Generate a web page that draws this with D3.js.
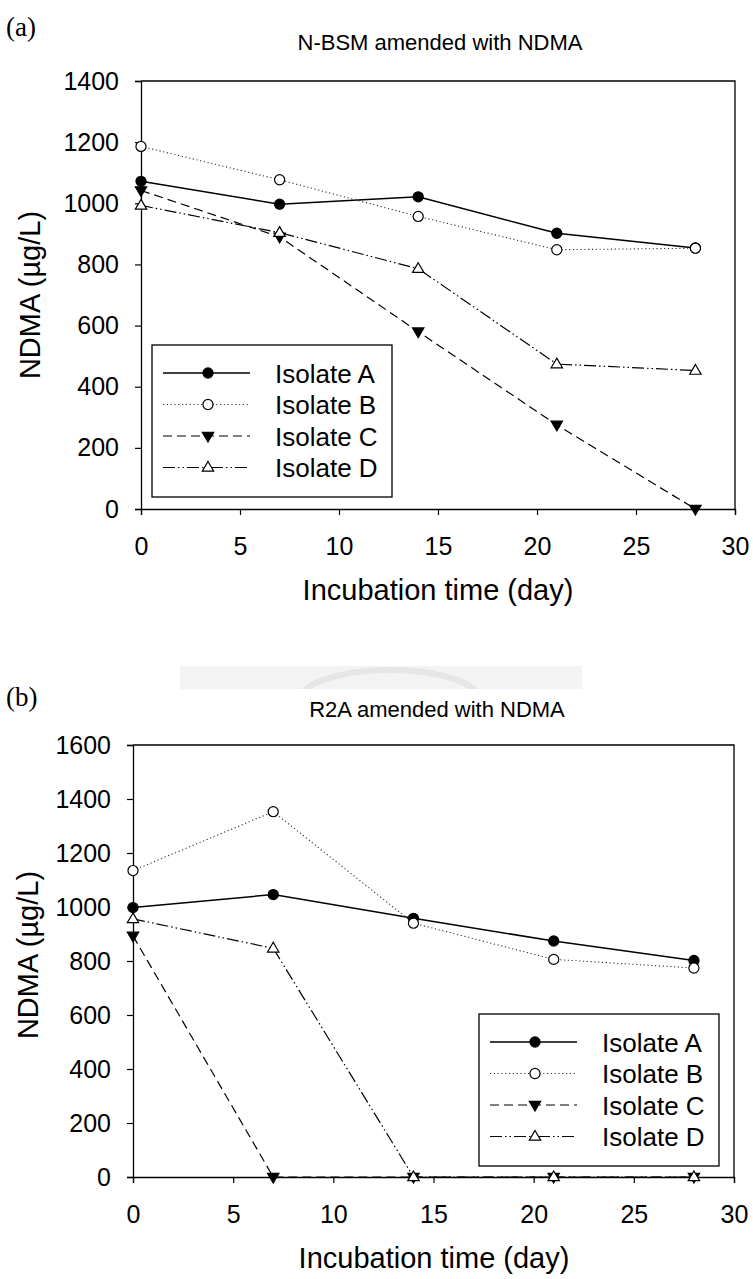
<!DOCTYPE html>
<html>
<head>
<meta charset="utf-8">
<script src="https://cdn.jsdelivr.net/npm/d3@7/dist/d3.min.js"></script>
<style>
  html, body { margin: 0; padding: 0; background: #fff; }
  svg { display: block; }
  text { font-family: "Liberation Sans", Arial, sans-serif; fill: #000; }
</style>
</head>
<body>
<svg id="chart" width="753" height="1279"></svg>
<script>
// Sampling days
const days = [0, 7, 14, 21, 28];
const isolates = ["Isolate A", "Isolate B", "Isolate C", "Isolate D"];

// N-BSM medium amended with NDMA (µg/L)
const bsmA = [1072, 997, 1021, 902, 854];
const bsmB = [1186, 1077, 957, 848, 853];
const bsmC = [1042, 890, 580, 275, 0];
const bsmD = [993, 904, 786, 474, 453];

// R2A medium amended with NDMA (µg/L)
const r2aA = [998, 1046, 958, 874, 802];
const r2aB = [1135, 1353, 940, 806, 774];
const r2aC = [893, 0, 0, 0, 0];
const r2aD = [956, 847, 0, 0, 0];

const xTicks = [0, 5, 10, 15, 20, 25, 30];
const yTicksA = [0, 200, 400, 600, 800, 1000, 1200, 1400];
const yTicksB = [0, 200, 400, 600, 800, 1000, 1200, 1400, 1600];

// Line / marker styling per isolate
const styles = [
  { dash: null, width: 1.5, color: "#000", marker: "circle", fill: "#000" },
  { dash: "1.2,2.6", width: 1.1, color: "#333", marker: "circle", fill: "#fff" },
  { dash: "9,5", width: 1.2, color: "#000", marker: "triDown", fill: "#000" },
  { dash: "12,3,1.5,3,1.5,3", width: 1.2, color: "#000", marker: "triUp", fill: "#fff" }
];

const svg = d3.select("#chart");

function markerPath(type) {
  if (type === "circle") return d3.symbol().type(d3.symbolCircle).size(80)();
  const s = 6;
  if (type === "triUp") return `M0,${-s} L${s * 0.95},${s * 0.62} L${-s * 0.95},${s * 0.62} Z`;
  return `M0,${s} L${s * 0.95},${-s * 0.62} L${-s * 0.95},${-s * 0.62} Z`;
}

function drawPanel(cfg) {
  const g = svg.append("g");
  const x = d3.scaleLinear().domain([0, 30]).range([cfg.left, cfg.right]);
  const y = d3.scaleLinear().domain([0, cfg.yMax]).range([cfg.bottom, cfg.top]);

  // panel letter
  g.append("text").attr("x", cfg.letterX).attr("y", cfg.letterY)
    .style("font-family", "'Liberation Serif', 'Times New Roman', serif")
    .style("font-size", "27px").text(cfg.letter);

  // title
  g.append("text").attr("x", cfg.titleX).attr("y", cfg.titleY)
    .attr("text-anchor", "middle").style("font-size", "22px").text(cfg.title);

  // frame (top and right)
  g.append("path")
    .attr("d", `M${cfg.left},${cfg.top} H${cfg.right} V${cfg.bottom}`)
    .attr("fill", "none").attr("stroke", "#000").attr("stroke-width", 1.3);

  // axes
  const yAxis = g.append("g").attr("transform", `translate(${cfg.left},0)`)
    .call(d3.axisLeft(y).tickValues(cfg.yTicks).tickSize(6).tickPadding(16).tickFormat(d3.format("d")));
  const xAxis = g.append("g").attr("transform", `translate(0,${cfg.bottom})`)
    .call(d3.axisBottom(x).tickValues(xTicks).tickSize(6).tickPadding(22).tickFormat(d3.format("d")));
  [yAxis, xAxis].forEach(a => {
    a.select(".domain").attr("stroke", "#000").attr("stroke-width", 1.3);
    a.selectAll(".tick line").attr("stroke", "#000").attr("stroke-width", 1.2);
    a.selectAll(".tick text").style("font-size", "25px").style("font-family", "'Liberation Sans', Arial, sans-serif").attr("fill", "#000");
  });

  // axis titles
  g.append("text").attr("x", cfg.xTitleX).attr("y", cfg.xTitleY)
    .attr("text-anchor", "middle").style("font-size", "29px").text("Incubation time (day)");
  g.append("text")
    .attr("transform", `translate(${cfg.yTitleX},${cfg.yTitleY}) rotate(-90)`)
    .attr("text-anchor", "middle").style("font-size", "29px").text("NDMA (\u00b5g/L)");

  // series lines
  const line = d3.line().x((d, i) => x(days[i])).y(d => y(d));
  cfg.series.forEach((vals, k) => {
    const st = styles[k];
    g.append("path").datum(vals).attr("d", line)
      .attr("fill", "none").attr("stroke", st.color).attr("stroke-width", st.width)
      .attr("stroke-dasharray", st.dash);
  });
  // markers
  cfg.series.forEach((vals, k) => {
    const st = styles[k];
    g.selectAll(null).data(vals).join("path")
      .attr("transform", (d, i) => `translate(${x(days[i])},${y(d)})`)
      .attr("d", markerPath(st.marker))
      .attr("fill", st.fill).attr("stroke", "#000").attr("stroke-width", 1.2);
  });

  // legend
  const L = cfg.legend;
  const lg = g.append("g");
  lg.append("rect").attr("x", L.x).attr("y", L.y).attr("width", 240).attr("height", 152)
    .attr("fill", "#fff").attr("stroke", "#000").attr("stroke-width", 1.3);
  isolates.forEach((name, k) => {
    const st = styles[k];
    const ry = L.y + 28 + k * 31.5;
    lg.append("line").attr("x1", L.x + 11).attr("x2", L.x + 98).attr("y1", ry).attr("y2", ry)
      .attr("stroke", st.color).attr("stroke-width", st.width).attr("stroke-dasharray", st.dash);
    lg.append("path").attr("transform", `translate(${L.x + 56},${ry})`)
      .attr("d", markerPath(st.marker)).attr("fill", st.fill).attr("stroke", "#000").attr("stroke-width", 1.2);
    lg.append("text").attr("x", L.x + 123).attr("y", ry + 9.5)
      .style("font-size", "26px").text(name);
  });
}

drawPanel({
  letter: "(a)", letterX: 6, letterY: 36,
  title: "N-BSM amended with NDMA", titleX: 440, titleY: 50,
  left: 141, right: 735, top: 81, bottom: 509, yMax: 1400, yTicks: yTicksA,
  xTitleX: 438, xTitleY: 600, yTitleX: 40, yTitleY: 295,
  series: [bsmA, bsmB, bsmC, bsmD],
  legend: { x: 152, y: 345 }
});

// faint grey band between panels
svg.append("clipPath").attr("id", "bandClip").append("rect")
  .attr("x", 180).attr("y", 666).attr("width", 402).attr("height", 23);
svg.append("rect").attr("x", 180).attr("y", 666).attr("width", 402).attr("height", 23).attr("fill", "#f3f3f3");
svg.append("ellipse").attr("cx", 390).attr("cy", 700).attr("rx", 90).attr("ry", 30)
  .attr("fill", "none").attr("stroke", "#e6e6e6").attr("stroke-width", 6)
  .attr("clip-path", "url(#bandClip)");

drawPanel({
  letter: "(b)", letterX: 6, letterY: 706,
  title: "R2A amended with NDMA", titleX: 437, titleY: 717,
  left: 133, right: 734, top: 745, bottom: 1177, yMax: 1600, yTicks: yTicksB,
  xTitleX: 434, xTitleY: 1268, yTitleX: 38, yTitleY: 955,
  series: [r2aA, r2aB, r2aC, r2aD],
  legend: { x: 479, y: 1014 }
});
</script>
</body>
</html>
